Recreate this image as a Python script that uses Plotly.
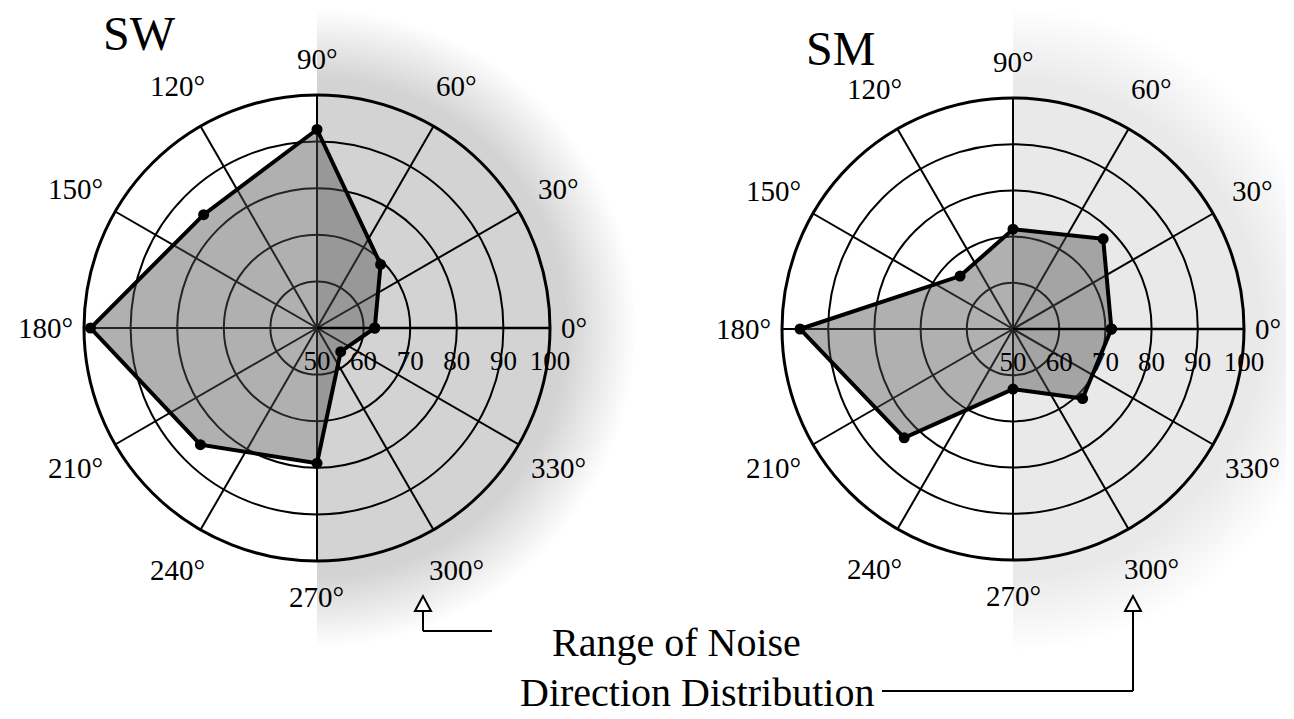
import numpy as np
import plotly.graph_objects as go

W, H = 1294, 719
OFF = 8  # page body margin of the browser (pixels)

# ---------------- data ----------------
directions = [0, 45, 90, 135, 180, 225, 270, 315]          # degrees
sw_values = [62.4, 69.3, 92.6, 84.4, 98.6, 85.4, 79.0, 57.2]
sm_values = [71.3, 77.6, 71.6, 66.2, 96.1, 83.3, 63.0, 71.3]
radial_ticks = [50, 60, 70, 80, 90, 100]
angle_ticks = list(range(0, 360, 30))
angle_labels = [f"{a}°" for a in angle_ticks]
noise_range_deg = [-90, 90]                                  # range of noise direction
panel_titles = ["SW", "SM"]
note_lines = ["Range of Noise", "Direction Distribution"]

# ---------------- geometry (pixels) ----------------
panels = [dict(cx=317, cy=328, R=233, halo_in=18, halo_out=85, strength=1.0,
               title_xy=(139, 33)),
          dict(cx=1013, cy=329, R=231, halo_in=18, halo_out=90, strength=0.55,
               title_xy=(840, 49))]

FONT = "Liberation Serif"
TICK_FS = 29


def px(x):
    return (x - OFF) / W


def py(y):
    return 1 - (y - OFF) / H


fig = go.Figure()
annotations = []
shapes = []

series = [sw_values, sm_values]
for i, (vals, p) in enumerate(zip(series, panels)):
    pid = "polar" if i == 0 else f"polar{i+1}"
    fig.add_trace(go.Scatterpolar(
        r=vals + [vals[0]], theta=directions + [directions[0]],
        mode="lines+markers", fill="toself",
        fillcolor="rgba(80,80,80,0.45)",
        line=dict(color="black", width=4),
        marker=dict(color="black", size=11),
        subplot=pid, showlegend=False, hoverinfo="skip"))

    polar = dict(
        domain=dict(x=[px(p["cx"] - p["R"]), px(p["cx"] + p["R"])],
                    y=[py(p["cy"] + p["R"]), py(p["cy"] - p["R"])]),
        bgcolor="rgba(0,0,0,0)",
        radialaxis=dict(range=[radial_ticks[0], radial_ticks[-1]], tickvals=radial_ticks,
                        angle=0, tickangle=0, side="clockwise",
                        showline=True, linecolor="black", linewidth=2.5,
                        showgrid=True, gridcolor="black", gridwidth=2,
                        ticks="outside", ticklen=8, tickcolor="rgba(0,0,0,0)",
                        tickfont=dict(family=FONT, size=27, color="black")),
        angularaxis=dict(tickvals=angle_ticks, showticklabels=False, ticks="",
                         direction="counterclockwise", rotation=0,
                         showline=True, linecolor="black", linewidth=3,
                         showgrid=True, gridcolor="black", gridwidth=2),
    )
    fig.update_layout(**{pid: polar})

    # angular tick labels placed around the circle
    for a, lab in zip(angle_ticks, angle_labels):
        t = np.radians(a)
        c, s = np.cos(t), np.sin(t)
        if a % 180 == 0:
            half_w = (0.5 * (len(lab) - 1) + 0.4) * TICK_FS / 2
            e = 11 + half_w
        elif a % 90 == 0:
            e = 36
        else:
            e = 46
        lx = p["cx"] + (p["R"] + e) * c
        ly = p["cy"] - (p["R"] + e) * s
        annotations.append(dict(text=lab, x=px(lx), y=py(ly), xref="paper", yref="paper",
                                xanchor="center", yanchor="middle", showarrow=False,
                                font=dict(family=FONT, size=TICK_FS, color="black")))

    # title
    annotations.append(dict(text=panel_titles[i], x=px(p["title_xy"][0]), y=py(p["title_xy"][1]),
                            xref="paper", yref="paper", xanchor="center", yanchor="middle",
                            showarrow=False, font=dict(family=FONT, size=48, color="black")))

    # halo: range of noise direction (half disc fading outward)
    a0, a1 = np.radians(noise_range_deg[0]), np.radians(noise_range_deg[1])
    n_rings = 22
    radii = np.linspace(p["R"] + p["halo_in"], p["R"] + p["halo_out"], n_rings)
    alpha = 0.17 / n_rings * p["strength"] * 1.05
    t = np.linspace(a0, a1, 120)
    for rr in radii:
        xs = rr * np.cos(t)
        ys = rr * np.sin(t)
        path = "M 0,0 " + " ".join(f"L {x:.1f},{y:.1f}" for x, y in zip(xs, ys)) + " Z"
        shapes.append(dict(type="path", xref="paper", yref="paper",
                           xsizemode="pixel", ysizemode="pixel",
                           xanchor=px(p["cx"]), yanchor=py(p["cy"]),
                           path=path, fillcolor=f"rgba(40,40,40,{alpha:.4f})",
                           line=dict(width=0), layer="below"))


# arrows
def tri(x, y_apex, h=15, w=8):
    return (f"M {px(x)},{py(y_apex)} L {px(x - w)},{py(y_apex + h)} "
            f"L {px(x + w)},{py(y_apex + h)} Z")


arrow_specs = [dict(x=423, apex=596, yline=631, xend=492),
               dict(x=1133, apex=596, yline=691, xend=882)]
for a in arrow_specs:
    shapes.append(dict(type="path", xref="paper", yref="paper", path=tri(a["x"], a["apex"]),
                       line=dict(color="black", width=2), fillcolor="white"))
    shapes.append(dict(type="line", xref="paper", yref="paper",
                       x0=px(a["x"]), x1=px(a["x"]), y0=py(a["apex"] + 15), y1=py(a["yline"]),
                       line=dict(color="black", width=2)))
    shapes.append(dict(type="line", xref="paper", yref="paper",
                       x0=px(a["x"]), x1=px(a["xend"]), y0=py(a["yline"]), y1=py(a["yline"]),
                       line=dict(color="black", width=2)))

annotations += [
    dict(text=note_lines[0], x=px(676), y=py(642), xref="paper", yref="paper",
         xanchor="center", yanchor="middle",
         showarrow=False, font=dict(family=FONT, size=40, color="black")),
    dict(text=note_lines[1], x=px(697), y=py(692), xref="paper", yref="paper",
         xanchor="center", yanchor="middle",
         showarrow=False, font=dict(family=FONT, size=40, color="black")),
]

fig.update_layout(width=W, height=H, margin=dict(l=0, r=0, t=0, b=0),
                  paper_bgcolor="white", plot_bgcolor="white",
                  shapes=shapes, annotations=annotations, showlegend=False)

fig.write_html("out.html")
